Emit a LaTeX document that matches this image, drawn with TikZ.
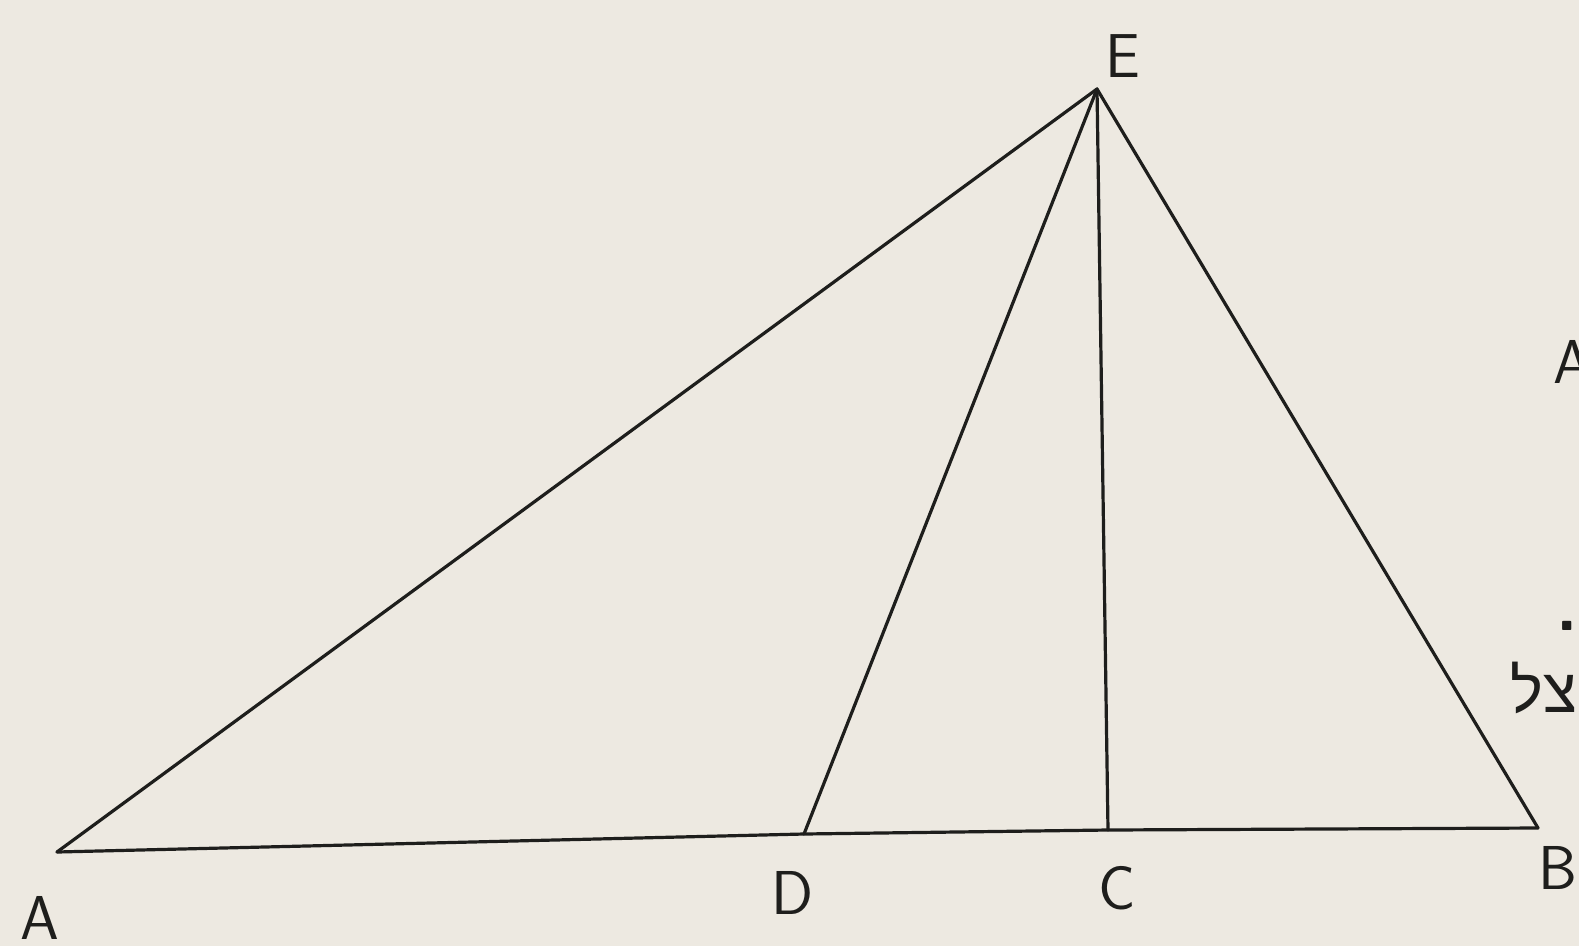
\documentclass[tikz,border=0pt]{standalone}
\usepackage{fontspec}
\newfontfamily\hebfont[Script=Hebrew]{Liberation Sans}
\TeXXeTstate=1
\definecolor{paper}{RGB}{237,233,225}
\definecolor{ink}{RGB}{30,30,28}
\begin{document}
\begin{tikzpicture}[x=1pt,y=-1pt,
  edge/.style={draw=ink,line width=3.2pt,line cap=round,line join=round},
  lbl/.style={text=ink,font=\sffamily\fontsize{62}{70}\selectfont,inner sep=0pt}]
\fill[paper] (0,0) rectangle (1579,946);
\useasboundingbox (0,0) rectangle (1579,946);
\clip (0,0) rectangle (1579,946);
\coordinate (A) at (57,852);
\coordinate (D) at (804,834);
\coordinate (C) at (1108,830);
\coordinate (B) at (1538,828);
\coordinate (E) at (1097,89);
\draw[edge] (A) -- (D) -- (C) -- (B);
\draw[edge] (A) -- (E) -- (B);
\draw[edge] (E) -- (D);
\draw[edge] (E) -- (C);
\node[lbl] (lE) at (1123,56) {E};
\node[lbl] (lA) at (40,918) {A};
\node[lbl] (lD) at (793,893) {D};
\node[lbl] (lC) at (1117,888) {C};
\node[lbl] (lB) at (1558,868) {B};
\node[lbl,anchor=west] (rA) at (1553,362) {A};
\node[lbl,anchor=base west,font=\bfseries\sffamily\fontsize{70}{80}\selectfont] (rdot) at (1556,630) {.};
\node[text=ink,font=\hebfont\fontsize{62}{70}\selectfont,inner sep=0pt,anchor=west] (heb) at (1510,688) {\beginR צל\endR};
\end{tikzpicture}
\end{document}
